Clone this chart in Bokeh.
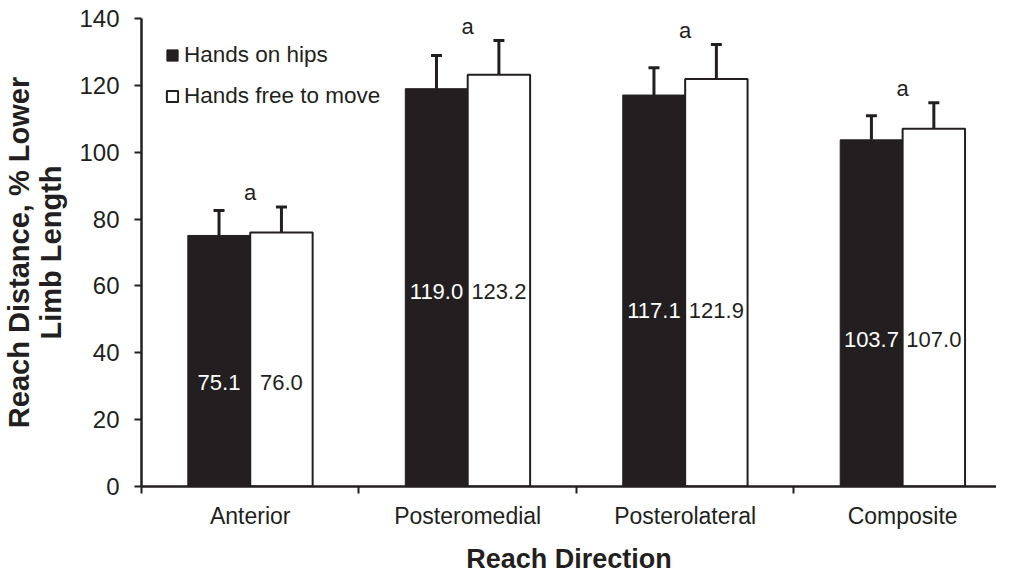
from bokeh.plotting import figure
from bokeh.models import (FixedTicker, Range1d, Legend, LegendItem, Whisker, TeeHead,
                          ColumnDataSource)
from bokeh.embed import file_html
from bokeh.resources import INLINE
from bokeh.core.properties import value

# ---- data ----
categories = ["Anterior", "Posteromedial", "Posterolateral", "Composite"]
series_names = ["Hands on hips", "Hands free to move"]
hips_mean = [75.1, 119.0, 117.1, 103.7]
free_mean = [76.0, 123.2, 121.9, 107.0]
hips_sd = [7.5, 9.9, 8.2, 7.2]
free_sd = [7.6, 10.2, 10.3, 7.8]
sig_marks = ["a", "a", "a", "a"]
y_ticks = [0, 20, 40, 60, 80, 100, 120, 140]

# ---- layout constants ----
label_y = [31.0, 58.3, 52.6, 44.0]   # vertical placement of the value labels inside bars
INK = "#231f20"
FONT = "Liberation Sans"
BW = 0.287

xc = [i + 1 for i in range(len(categories))]
bounds = [i + 0.5 for i in range(len(categories) + 1)]
x_h = [x - BW / 2 for x in xc]
x_f = [x + BW / 2 for x in xc]

p = figure(width=996, height=576,
           min_border_left=133, min_border_top=18, min_border_right=0, min_border_bottom=89,
           x_range=Range1d(0.5, 0.5 + 863 / 219.5), y_range=Range1d(0, 140),
           output_backend="svg", toolbar_location=None)
p.outline_line_color = None
p.xgrid.visible = False
p.ygrid.visible = False
p.background_fill_color = "white"
p.border_fill_color = "white"

src_h = ColumnDataSource(dict(x=x_h, top=hips_mean, up=[m + s for m, s in zip(hips_mean, hips_sd)],
                              lab=[f"{v:.1f}" for v in hips_mean], ly=label_y))
src_f = ColumnDataSource(dict(x=x_f, top=free_mean, up=[m + s for m, s in zip(free_mean, free_sd)],
                              lab=[f"{v:.1f}" for v in free_mean], ly=label_y))

r_h = p.vbar(x="x", top="top", bottom=0, width=BW, source=src_h,
             fill_color=INK, line_color=INK, line_width=1)
r_f = p.vbar(x="x", top="top", bottom=0, width=BW, source=src_f,
             fill_color="white", line_color=INK, line_width=2)

for src in (src_h, src_f):
    w = Whisker(base="x", lower="top", upper="up", source=src, dimension="height",
                line_color=INK, line_width=3,
                upper_head=TeeHead(size=11, line_color=INK, line_width=3), lower_head=None)
    p.add_layout(w)

p.text(x="x", y="ly", text="lab", source=src_h, text_color="white",
       text_font=value(FONT), text_font_size="22px", text_align="center", text_baseline="middle")
p.text(x="x", y="ly", text="lab", source=src_f, text_color=INK,
       text_font=value(FONT), text_font_size="22px", text_align="center", text_baseline="middle")

sig_y = [max(a + b, c + d) + 4.2 for a, b, c, d in zip(hips_mean, hips_sd, free_mean, free_sd)]
p.text(x=xc, y=sig_y, text=sig_marks, text_color=INK, text_font=value(FONT),
       text_font_size="22px", text_align="center", text_baseline="middle")

legend = Legend(items=[LegendItem(label=series_names[0], renderers=[r_h]),
                       LegendItem(label=series_names[1], renderers=[r_f])],
                location="top_left", margin=24, padding=0, spacing=15,
                glyph_width=14, glyph_height=14, label_standoff=5,
                label_text_font=FONT, label_text_font_size="22.5px", label_text_color=INK,
                border_line_color=None, background_fill_alpha=0)
p.add_layout(legend)

# x axis
xa = p.xaxis[0]
xa.ticker = FixedTicker(ticks=xc, minor_ticks=bounds)
xa.major_label_overrides = {x: c for x, c in zip(xc, categories)}
xa.major_tick_line_color = None
xa.major_tick_out = 7
xa.major_tick_in = 0
xa.minor_tick_line_color = INK
xa.minor_tick_line_width = 2
xa.minor_tick_out = 7
xa.minor_tick_in = 0
xa.axis_line_color = INK
xa.axis_line_width = 2.5
xa.major_label_standoff = 9
xa.major_label_text_font = FONT
xa.major_label_text_font_size = "23px"
xa.major_label_text_color = INK
xa.axis_label = "Reach Direction"
xa.axis_label_text_font = FONT
xa.axis_label_text_font_size = "27px"
xa.axis_label_text_font_style = "bold"
xa.axis_label_text_color = INK
xa.axis_label_standoff = 12

# y axis
ya = p.yaxis[0]
ya.ticker = FixedTicker(ticks=y_ticks)
ya.minor_tick_line_color = None
ya.major_tick_out = 7
ya.major_tick_in = 0
ya.major_tick_line_width = 2
ya.major_tick_line_color = INK
ya.axis_line_color = INK
ya.axis_line_width = 2.5
ya.major_label_standoff = 15
ya.major_label_text_font = FONT
ya.major_label_text_font_size = "24px"
ya.major_label_text_color = INK
ya.axis_label = "Reach Distance, % Lower\nLimb Length"
ya.axis_label_text_font = FONT
ya.axis_label_text_font_size = "29px"
ya.axis_label_text_font_style = "bold"
ya.axis_label_text_line_height = 1.0
ya.axis_label_text_color = INK
ya.axis_label_standoff = 9

open("out.html", "w").write(file_html(p, INLINE))
